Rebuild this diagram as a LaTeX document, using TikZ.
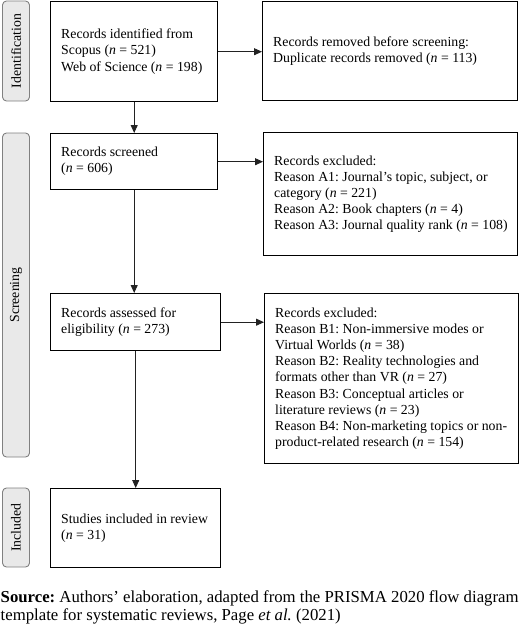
\documentclass[tikz,border=0pt]{standalone}
\usepackage{fontspec}
\setmainfont{Liberation Serif}
\usetikzlibrary{arrows.meta}
\definecolor{phasefill}{HTML}{E9E9E9}
\definecolor{phaseline}{HTML}{808080}
\definecolor{arrowline}{HTML}{222222}
\newcommand{\boxfont}{\fontsize{13.8}{16.1}\selectfont\frenchspacing}
\newcommand{\capfont}{\fontsize{16.75}{18.5}\selectfont\frenchspacing}
\newcommand{\nn}{\textit{n}}
\newcommand{\boxlines}[2]{\makebox[#1][l]{\begin{tabular}{@{}l@{}}#2\end{tabular}}}
\begin{document}
\begin{tikzpicture}[x=1pt,y=1pt,
  box/.style={draw=black, line width=1.4pt, anchor=north west,
    inner xsep=10.5pt, inner ysep=0pt, font=\boxfont},
  phase/.style={draw=phaseline, fill=phasefill, rounded corners=4pt,
    line width=0.9pt, rotate=90, inner sep=0pt, minimum height=27pt,
    font=\boxfont},
  flow/.style={draw=arrowline, line width=0.9pt,
    -{Triangle[length=8pt,width=7pt]}}]
\useasboundingbox (0,0) rectangle (520,-627);

% phase labels
\node[phase, minimum width=100pt] (pid) at (16,-51) {Identification};
\node[phase, minimum width=324pt] (pscr) at (16,-295) {Screening};
\node[phase, minimum width=79pt] (pinc) at (16,-527.5) {Included};

% main boxes
\node[box, minimum height=100pt] (A) at (50,-1)
  {\boxlines{146pt}{Records identified from\\Scopus (\nn{} = 521)\\Web of Science (\nn{} = 198)}};
\node[box, minimum height=56pt] (B) at (50,-133)
  {\boxlines{146pt}{Records screened\\(\nn{} = 606)}};
\node[box, minimum height=57pt] (C) at (50,-293)
  {\boxlines{149pt}{Records assessed for\\eligibility (\nn{} = 273)}};
\node[box, minimum height=79pt] (D) at (50,-488)
  {\boxlines{149pt}{Studies included in review\\(\nn{} = 31)}};

% side boxes
\node[box, minimum height=99pt] (R1) at (262,-1)
  {\boxlines{234pt}{Records removed before screening:\\Duplicate records removed (\nn{} = 113)}};
\node[box, minimum height=123pt] (R2) at (263,-132)
  {\boxlines{233pt}{Records excluded:\\Reason A1: Journal’s topic, subject, or\\category (\nn{} = 221)\\Reason A2: Book chapters (\nn{} = 4)\\Reason A3: Journal quality rank (\nn{} = 108)}};
\node[box, minimum height=170pt] (R3) at (264,-293)
  {\boxlines{233pt}{Records excluded:\\Reason B1: Non-immersive modes or\\Virtual Worlds (\nn{} = 38)\\Reason B2: Reality technologies and\\formats other than VR (\nn{} = 27)\\Reason B3: Conceptual articles or\\literature reviews (\nn{} = 23)\\Reason B4: Non-marketing topics or non-\\product-related research (\nn{} = 154)}};

% connectors
\draw[flow] (A.south) -- (B.north);
\draw[flow] (B.south) -- (B.south |- C.north);
\draw[flow] (C.south) -- (D.north);
\draw[flow] (A.east) -- (A.east -| R1.west);
\draw[flow] (B.east) -- (B.east -| R2.west);
\draw[flow] (C.east) -- (C.east -| R3.west);

% caption
\node[anchor=north west, align=left, inner sep=0pt, font=\capfont] (cap) at (0.5,-590)
  {\textbf{Source:} Authors’ elaboration, adapted from the PRISMA 2020 flow diagram\\template for systematic reviews, Page \textit{et al.} (2021)};
\end{tikzpicture}
\end{document}
